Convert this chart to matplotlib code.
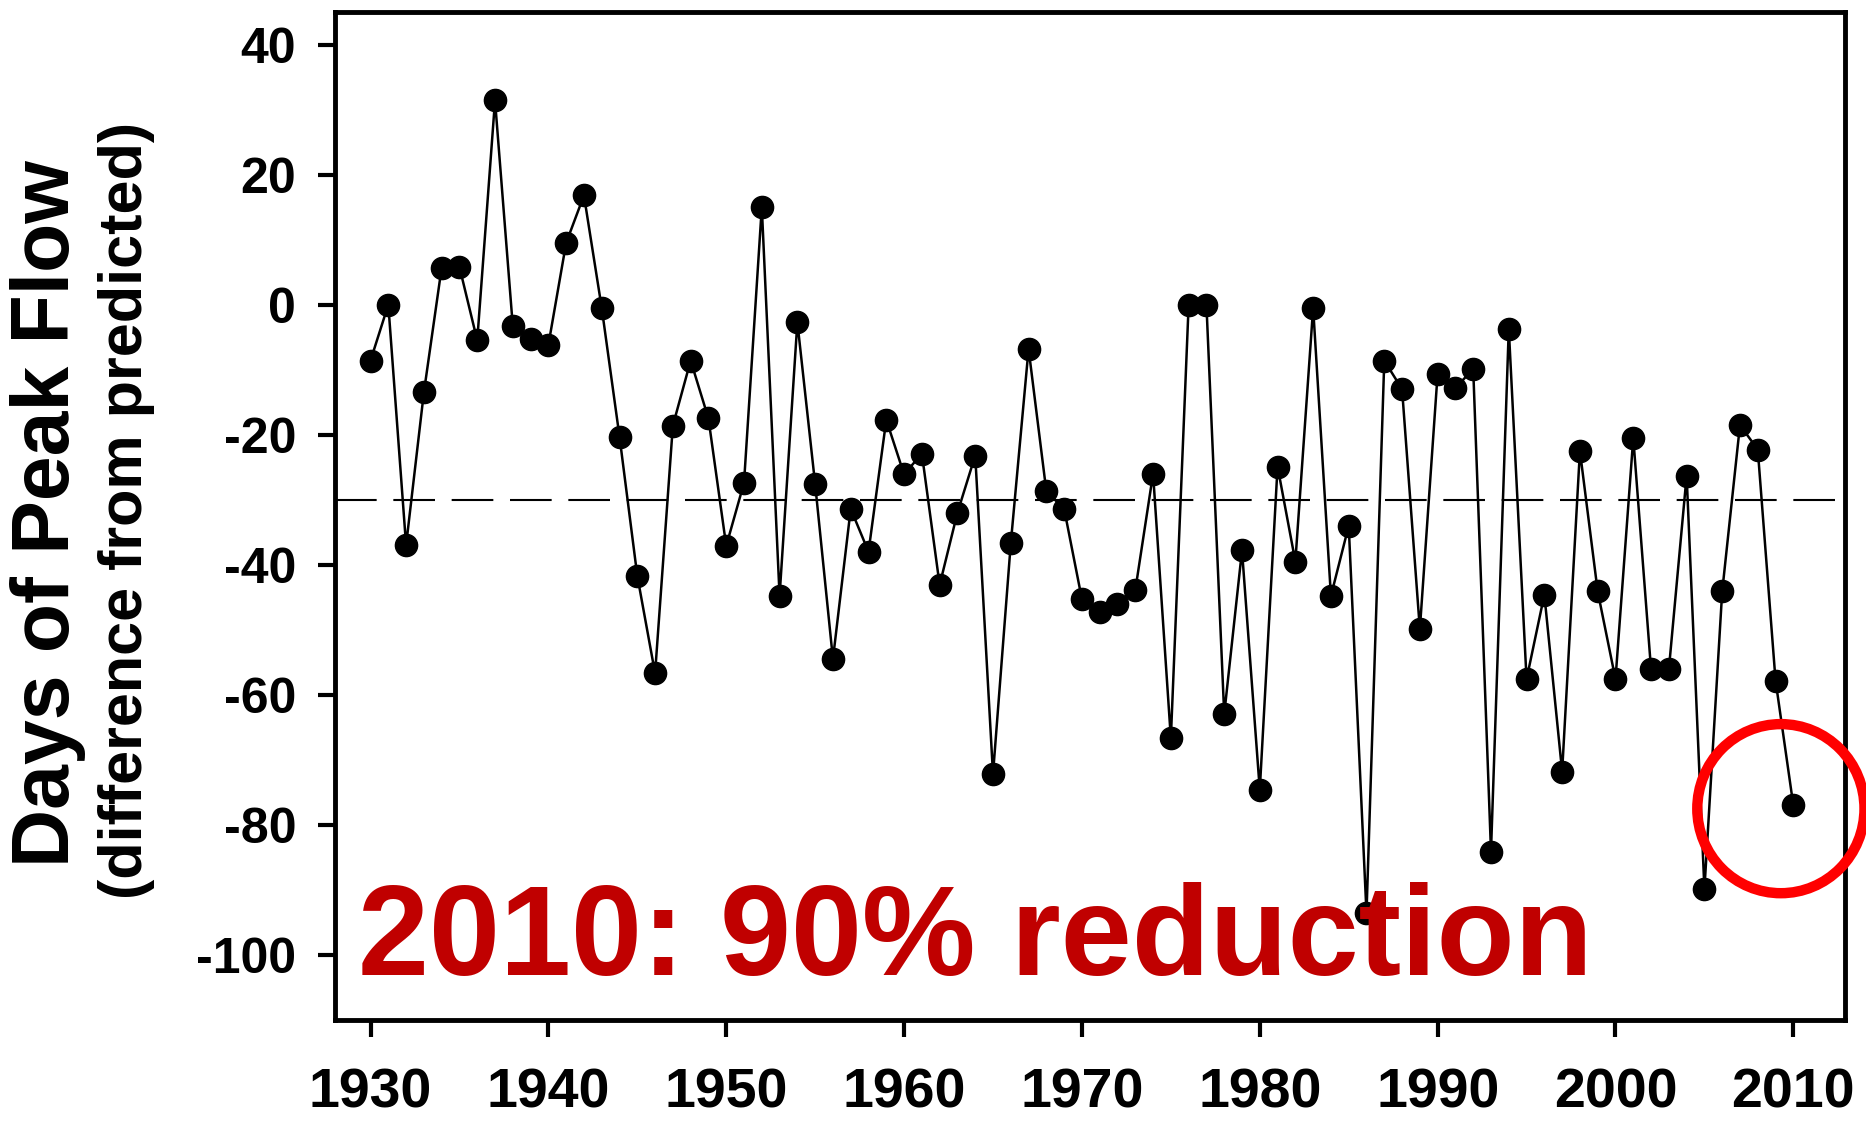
import numpy as np
import matplotlib
matplotlib.use('Agg')
import matplotlib.pyplot as plt
from matplotlib.patches import Ellipse

plt.rcParams['font.family'] = ['Liberation Sans', 'DejaVu Sans']
plt.rcParams['font.weight'] = 'bold'
plt.rcParams['axes.unicode_minus'] = False

# 逐年数据
years = np.arange(1930, 2011)
days = [-8.6, 0, -37, -13.5, 5.7, 5.8, -5.5, 31.4, -3.3, -5.3,
        -6.2, 9.5, 16.8, -0.5, -20.3, -41.7, -56.7, -18.6, -8.6, -17.5,
        -37.1, -27.4, 15, -44.8, -2.7, -27.6, -54.5, -31.4, -38, -17.7,
        -26.1, -22.9, -43.1, -32, -23.2, -72.2, -36.7, -6.8, -28.7, -31.4,
        -45.3, -47.3, -46, -43.9, -26, -66.7, 0, 0, -63, -37.8,
        -74.6, -24.9, -39.5, -0.5, -44.8, -34, -93.6, -8.6, -13, -49.9,
        -10.6, -12.8, -9.9, -84.1, -3.7, -57.6, -44.6, -71.8, -22.5, -44.1,
        -57.6, -20.5, -56.1, -56.1, -26.3, -89.9, -44.1, -18.5, -22.3, -57.8,
        -77]
mean_line = -30
x_ticks = [1930, 1940, 1950, 1960, 1970, 1980, 1990, 2000, 2010]
y_ticks = [40, 20, 0, -20, -40, -60, -80, -100]
note = '2010: 90% reduction'

fig = plt.figure(figsize=(18.66, 11.22), dpi=100)
ax = fig.add_axes([0.1795, 0.0909, 0.8092, 0.8984])

ax.axhline(mean_line, color='black', linewidth=1.5, linestyle=(0, (20, 8)), zorder=1)
ax.plot(years, days, color='black', linewidth=1.8, marker='o', markersize=16, zorder=3)

# 红圈标出2010
circ = Ellipse((2009.3, -77.5), 9.4, 26, fill=False, edgecolor='#ff0000', linewidth=7.5,
               clip_on=False, zorder=4)
ax.add_patch(circ)

ax.text(1929.3, -103, note, color='#c00000', fontsize=92, fontweight='bold',
        ha='left', va='baseline', zorder=5)

ax.set_xlim(1928, 2012.9)
ax.set_ylim(-110, 45)
ax.set_xticks(x_ticks)
ax.set_yticks(y_ticks)
ax.tick_params(axis='x', direction='out', length=12, width=3, pad=22, labelsize=40)
ax.tick_params(axis='y', direction='out', length=12, width=3, pad=16, labelsize=36)
for lab in ax.get_xticklabels() + ax.get_yticklabels():
    lab.set_fontweight('bold')
for s in ax.spines.values():
    s.set_linewidth(3.5)

fig.text(48 / 1866, 1 - 514 / 1122, 'Days of Peak Flow', rotation=90, fontsize=58,
         fontweight='bold', ha='center', va='center')
fig.text(127 / 1866, 1 - 510 / 1122, '(difference from predicted)', rotation=90, fontsize=44,
         fontweight='bold', ha='center', va='center')

plt.savefig('out.png', dpi=100)
plt.close()
